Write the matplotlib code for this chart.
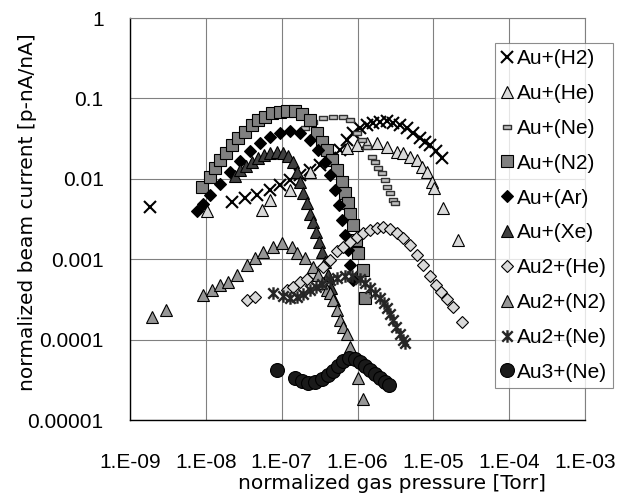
import matplotlib
matplotlib.use('Agg')
import matplotlib.pyplot as plt
from matplotlib.path import Path

plt.rcParams['font.family'] = ['Liberation Sans', 'DejaVu Sans']

# dados (pressão [Torr], corrente normalizada)
au_h2_x = [1.84e-9, 2.2e-8, 3.3e-8, 4.7e-8, 7.0e-8, 9.5e-8, 1.3e-7, 1.75e-7, 2.37e-7, 3.2e-7,
           4.35e-7, 5.9e-7, 7.3e-7, 8.75e-7, 1.08e-6, 1.34e-6, 1.6e-6, 1.99e-6, 2.46e-6, 2.95e-6,
           3.65e-6, 4.5e-6, 5.4e-6, 6.7e-6, 7.8e-6, 9.1e-6, 1.09e-5, 1.31e-5]
au_h2_y = [4.4e-3, 5.1e-3, 5.7e-3, 6.2e-3, 7.2e-3, 8.3e-3, 9.6e-3, 0.011, 0.013, 0.015,
           0.018, 0.023, 0.030, 0.037, 0.043, 0.047, 0.050, 0.051, 0.052, 0.050,
           0.047, 0.043, 0.037, 0.032, 0.029, 0.026, 0.022, 0.018]

au_he_x = [1.04e-8, 5.5e-8, 7.0e-8, 1.3e-7, 2.37e-7, 4.35e-7, 7.3e-7, 9.9e-7, 1.34e-6, 1.82e-6,
           2.46e-6, 3.33e-6, 4.0e-6, 4.94e-6, 6.1e-6, 7.1e-6, 8.3e-6, 9.6e-6, 1.03e-5, 1.35e-5, 2.12e-5]
au_he_y = [3.95e-3, 4.06e-3, 5.4e-3, 7.2e-3, 0.012, 0.018, 0.024, 0.026, 0.0277, 0.0277,
           0.0248, 0.0214, 0.0208, 0.0186, 0.017, 0.0139, 0.0121, 9.1e-3, 7.6e-3, 4.3e-3, 1.72e-3]

au_ne_x = [2.04e-7, 2.6e-7, 3.5e-7, 4.8e-7, 6.5e-7, 8.0e-7, 9.9e-7, 1.15e-6, 1.34e-6, 1.56e-6,
           1.71e-6, 1.87e-6, 2.11e-6, 2.31e-6, 2.46e-6, 2.69e-6, 2.95e-6, 3.13e-6]
au_ne_y = [0.0427, 0.0507, 0.0569, 0.0585, 0.0585, 0.0537, 0.037, 0.0303, 0.0248, 0.0186,
           0.0161, 0.0136, 0.0117, 9.6e-3, 7.9e-3, 6.6e-3, 5.4e-3, 4.97e-3]

au_n2_x = [8.9e-9, 1.14e-8, 1.32e-8, 1.54e-8, 1.85e-8, 2.2e-8, 2.66e-8, 3.3e-8, 4.07e-8, 4.9e-8,
           6.0e-8, 7.5e-8, 9.5e-8, 1.18e-7, 1.5e-7, 1.86e-7, 2.37e-7, 2.93e-7, 3.4e-7, 3.97e-7,
           4.6e-7, 5.4e-7, 6.3e-7, 6.9e-7, 7.5e-7, 8.0e-7, 8.75e-7, 9.6e-7, 1.02e-6, 1.19e-6, 1.26e-6]
au_n2_y = [7.9e-3, 0.0105, 0.0136, 0.017, 0.0208, 0.0262, 0.032, 0.038, 0.0465, 0.0537,
           0.0585, 0.0656, 0.0675, 0.0695, 0.0695, 0.064, 0.0537, 0.037, 0.0286, 0.0227,
           0.017, 0.0128, 9.1e-3, 6.6e-3, 4.97e-3, 3.7e-3, 2.64e-3, 1.72e-3, 1.18e-3, 7.3e-4, 3.26e-4]

au_ar_x = [7.65e-9, 9.2e-9, 1.14e-8, 1.54e-8, 2.08e-8, 2.83e-8, 3.83e-8, 5.2e-8, 7.0e-8, 9.5e-8,
           1.3e-7, 1.75e-7, 2.37e-7, 3.0e-7, 3.74e-7, 4.35e-7, 5.06e-7, 5.7e-7, 6.3e-7, 6.9e-7,
           7.5e-7, 8.0e-7, 8.75e-7]
au_ar_y = [3.95e-3, 4.83e-3, 6.25e-3, 8.6e-3, 0.0121, 0.0166, 0.022, 0.0277, 0.033, 0.037,
           0.039, 0.037, 0.0303, 0.0227, 0.0161, 0.0111, 7.2e-3, 4.69e-3, 3.05e-3, 1.99e-3,
           1.29e-3, 8.4e-4, 5.5e-4]

au_xe_x = [2.43e-8, 2.83e-8, 3.39e-8, 4.07e-8, 4.9e-8, 5.86e-8, 7.0e-8, 8.7e-8, 1.04e-7, 1.21e-7,
           1.41e-7, 1.6e-7, 1.75e-7, 1.91e-7, 2.16e-7, 2.37e-7, 2.6e-7, 2.84e-7, 3.1e-7, 3.4e-7,
           3.74e-7, 4.1e-7, 4.49e-7, 4.9e-7]
au_xe_y = [0.0108, 0.0128, 0.0144, 0.0161, 0.018, 0.0197, 0.0208, 0.0214, 0.0208, 0.0191,
           0.0161, 0.0121, 9.1e-3, 6.6e-3, 4.97e-3, 3.7e-3, 2.88e-3, 2.16e-3, 1.62e-3, 1.22e-3,
           9.1e-4, 6.3e-4, 4.35e-4, 3.08e-4]

au2_he_x = [3.5e-8, 4.46e-8, 1.18e-7, 1.41e-7, 1.75e-7, 2.16e-7, 2.6e-7, 3.5e-7, 4.35e-7, 5.4e-7,
            6.45e-7, 8.0e-7, 9.9e-7, 1.19e-6, 1.47e-6, 1.82e-6, 2.18e-6, 2.69e-6, 3.33e-6, 4.0e-6,
            4.94e-6, 6.1e-6, 7.3e-6, 9.1e-6, 1.09e-5, 1.27e-5, 1.52e-5, 1.82e-5, 2.4e-5]
au2_he_y = [3.08e-4, 3.36e-4, 4.1e-4, 4.47e-4, 5.15e-4, 5.6e-4, 6.7e-4, 7.9e-4, 9.7e-4, 1.25e-3,
            1.41e-3, 1.62e-3, 1.87e-3, 2.1e-3, 2.29e-3, 2.43e-3, 2.5e-3, 2.36e-3, 2.1e-3, 1.82e-3,
            1.49e-3, 1.12e-3, 8.4e-4, 6.1e-4, 4.73e-4, 3.87e-4, 3.17e-4, 2.52e-4, 1.64e-4]

au2_n2_x = [1.95e-9, 2.99e-9, 9.2e-9, 1.21e-8, 1.54e-8, 1.96e-8, 2.58e-8, 3.5e-8, 4.46e-8, 5.69e-8,
            7.7e-8, 1.01e-7, 1.37e-7, 1.6e-7, 2.04e-7, 2.6e-7, 3.0e-7, 3.5e-7, 3.97e-7, 4.35e-7,
            4.76e-7, 5.4e-7, 5.9e-7, 6.45e-7, 7.3e-7, 8.0e-7, 1.02e-6, 1.19e-6]
au2_n2_y = [1.89e-4, 2.31e-4, 3.55e-4, 4.1e-4, 4.73e-4, 5.15e-4, 6.3e-4, 8.4e-4, 1.03e-3, 1.22e-3,
            1.41e-3, 1.58e-3, 1.41e-3, 1.18e-3, 1.03e-3, 7.9e-4, 6.3e-4, 5.0e-4, 4.1e-4, 3.76e-4,
            3.08e-4, 2.31e-4, 1.73e-4, 1.42e-4, 1.19e-4, 8.0e-5, 3.29e-5, 1.85e-5]

au2_ne_x = [7.7e-8, 1.04e-7, 1.3e-7, 1.6e-7, 1.91e-7, 2.37e-7, 2.84e-7, 3.4e-7, 4.35e-7, 5.4e-7,
            6.86e-7, 8.5e-7, 1.08e-6, 1.26e-6, 1.47e-6, 1.71e-6, 1.99e-6, 2.24e-6, 2.46e-6, 2.69e-6,
            2.95e-6, 3.23e-6, 3.65e-6, 4.0e-6, 4.25e-6]
au2_ne_y = [3.76e-4, 3.45e-4, 3.26e-4, 3.36e-4, 3.66e-4, 4.1e-4, 4.47e-4, 4.87e-4, 5.5e-4, 5.8e-4,
            6.1e-4, 6.1e-4, 5.6e-4, 5.0e-4, 4.35e-4, 3.76e-4, 3.26e-4, 2.82e-4, 2.45e-4, 2.06e-4,
            1.73e-4, 1.42e-4, 1.16e-4, 1.0e-4, 8.97e-5]

au3_ne_x = [8.7e-8, 1.5e-7, 1.86e-7, 2.23e-7, 2.76e-7, 3.4e-7, 4.1e-7, 4.76e-7, 5.55e-7, 6.45e-7,
            7.75e-7, 9.3e-7, 1.08e-6, 1.26e-6, 1.47e-6, 1.71e-6, 1.99e-6, 2.31e-6, 2.61e-6]
au3_ne_y = [4.13e-5, 3.29e-5, 3.02e-5, 2.85e-5, 2.93e-5, 3.19e-5, 3.58e-5, 4.02e-5, 4.64e-5, 5.36e-5,
            5.83e-5, 5.67e-5, 5.2e-5, 4.64e-5, 4.13e-5, 3.69e-5, 3.29e-5, 2.93e-5, 2.69e-5]

x_ticks = [1e-9, 1e-8, 1e-7, 1e-6, 1e-5, 1e-4, 1e-3]
x_labels = ['1.E-09', '1.E-08', '1.E-07', '1.E-06', '1.E-05', '1.E-04', '1.E-03']
y_ticks = [1e-5, 1e-4, 1e-3, 1e-2, 1e-1, 1]
y_labels = ['0.00001', '0.0001', '0.001', '0.01', '0.1', '1']

# marcadores especiais: traço (Au+(Ne)) e asterisco (Au2+(Ne))
traco = Path([(-1, -0.45), (1, -0.45), (1, 0.45), (-1, 0.45), (-1, -0.45)],
             [Path.MOVETO, Path.LINETO, Path.LINETO, Path.LINETO, Path.CLOSEPOLY])
asterisco = Path([(-1, -1), (1, 1), (-1, 1), (1, -1), (0, -1.2), (0, 1.2)],
                 [Path.MOVETO, Path.LINETO, Path.MOVETO, Path.LINETO, Path.MOVETO, Path.LINETO])

fig = plt.figure(figsize=(6.22, 4.96), dpi=100)
ax = fig.add_axes([130 / 622, 1 - 420 / 496, 455 / 622, 402 / 496])

ek = dict(linestyle='none', markeredgecolor='black', markeredgewidth=0.8)
ax.plot(au_h2_x, au_h2_y, marker='x', color='black', ms=8.5, mew=1.5, linestyle='none', label='Au+(H2)')
ax.plot(au_he_x, au_he_y, marker='^', ms=9, mfc='#d9d9d9', label='Au+(He)', **ek)
ax.plot(au_ne_x, au_ne_y, marker=traco, ms=6, mfc='#bfbfbf', linestyle='none',
        markeredgecolor='#333333', markeredgewidth=1.0, label='Au+(Ne)')
ax.plot(au_n2_x, au_n2_y, marker='s', ms=9, mfc='#808080', label='Au+(N2)', **ek)
ax.plot(au_ar_x, au_ar_y, marker='D', ms=6.5, mfc='#000000', label='Au+(Ar)', **ek)
ax.plot(au_xe_x, au_xe_y, marker='^', ms=9, mfc='#404040', label='Au+(Xe)', **ek)
ax.plot(au2_he_x, au2_he_y, marker='D', ms=6.5, mfc='#d9d9d9', label='Au2+(He)', **ek)
ax.plot(au2_n2_x, au2_n2_y, marker='^', ms=9, mfc='#969696', label='Au2+(N2)', **ek)
ax.plot(au2_ne_x, au2_ne_y, marker=asterisco, ms=9, color='#262626', mew=1.7,
        linestyle='none', label='Au2+(Ne)')
ax.plot(au3_ne_x, au3_ne_y, marker='o', ms=10, mfc='#1a1a1a', label='Au3+(Ne)', **ek)

ax.set_xscale('log')
ax.set_yscale('log')
ax.set_xlim(1e-9, 1e-3)
ax.set_ylim(1e-5, 1)
ax.minorticks_off()
ax.set_xticks(x_ticks)
ax.set_xticklabels(x_labels)
ax.set_yticks(y_ticks)
ax.set_yticklabels(y_labels)
ax.tick_params(length=0, labelsize=15)
ax.tick_params(axis='y', pad=19)
ax.tick_params(axis='x', pad=24)
ax.grid(True, color='#808080', linewidth=0.8)
ax.set_axisbelow(True)
for lado in ['left', 'bottom']:
    ax.spines[lado].set_color('black')
    ax.spines[lado].set_linewidth(1.0)
for lado in ['top', 'right']:
    ax.spines[lado].set_color('#808080')
    ax.spines[lado].set_linewidth(0.8)

ax.set_xlabel('normalized gas pressure [Torr]', fontsize=14.5, family='DejaVu Sans')
ax.set_ylabel('normalized beam current [p-nA/nA]', fontsize=14.5, family='DejaVu Sans')
ax.xaxis.set_label_coords(0.575, -0.135)
ax.yaxis.set_label_coords(-0.205, 0.517)

leg = fig.legend(loc='upper left', bbox_to_anchor=(495 / 622, 1 - 43 / 496), fontsize=15,
                 frameon=True, fancybox=False, borderpad=0.3, labelspacing=0.76,
                 handlelength=0.55, handletextpad=0.2, borderaxespad=0)
leg.get_frame().set_edgecolor('#707070')
leg.get_frame().set_linewidth(0.8)

fig.savefig('out.png', dpi=100)
